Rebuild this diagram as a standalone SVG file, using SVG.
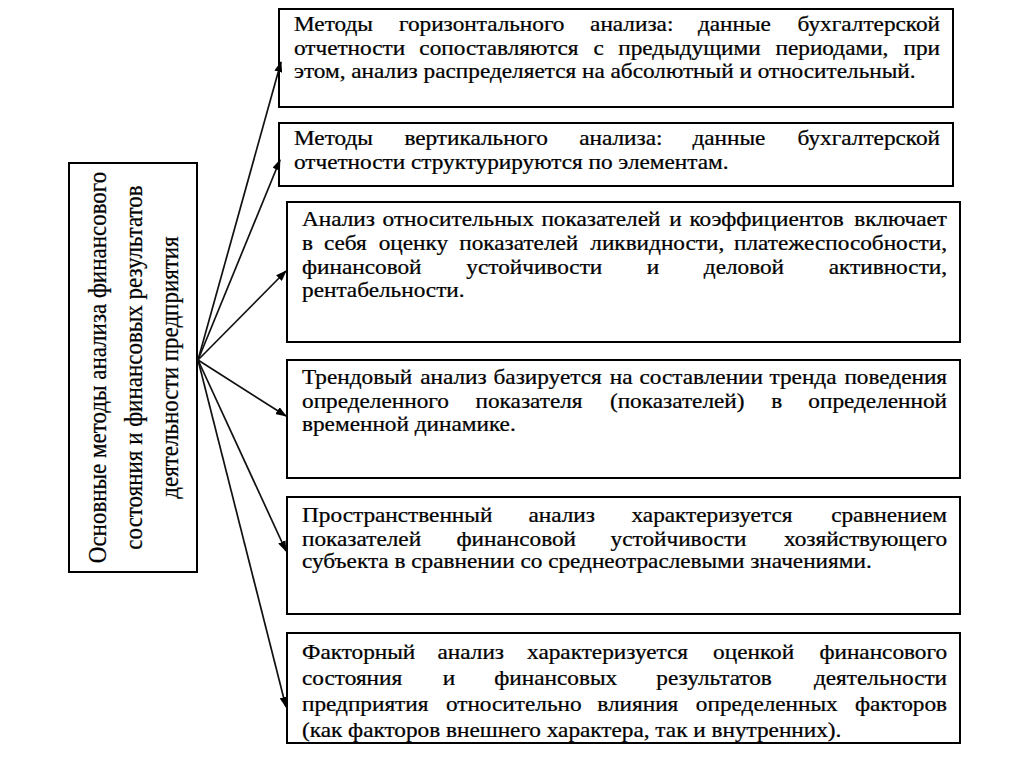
<svg xmlns="http://www.w3.org/2000/svg" width="1014" height="758" viewBox="0 0 1014 758">
<style>
.box{fill:#fff;stroke:#000;stroke-width:2}
.rt{fill:#000;stroke:#000;stroke-width:0.25}
.tl{fill:#000;text-anchor:middle;stroke:#000;stroke-width:0.2}
.rt .e{text-anchor:end}
.conn line{stroke:#111;stroke-width:1.7;fill:none;marker-end:url(#ah)}
</style>
<defs>
<marker id="ah" markerUnits="userSpaceOnUse" markerWidth="11" markerHeight="8" refX="10" refY="4" orient="auto"><path d="M0,0 L11,4 L0,8 z" fill="#000"/></marker>
<clipPath id="c6" clipPathUnits="userSpaceOnUse"><rect x="287" y="634" width="672" height="108"/></clipPath>
</defs>
<rect width="1014" height="758" fill="#fff"/>

<g id="n0">
<rect class="box" x="69" y="163" width="128" height="409"/>
<g font-family="Liberation Serif, serif" font-size="23">
<text class="tl" transform="translate(106,367.5) scale(1.135,1) rotate(-90)">Основные методы анализа финансового</text>
<text class="tl" transform="translate(142,367.5) scale(1.135,1) rotate(-90)">состояния и финансовых результатов</text>
<text class="tl" transform="translate(178,367.5) scale(1.135,1) rotate(-90)">деятельности предприятия</text>
</g>
</g>

<g id="n1">
<rect class="box" x="279" y="9" width="674" height="98"/>
<g class="rt" font-family="Liberation Serif, serif" font-size="20.5" transform="scale(1.135,1)">
<text y="31"><tspan x="259">Методы</tspan><tspan x="351.5">горизонтального</tspan><tspan x="519.9">анализа:</tspan><tspan x="614.9">данные</tspan></text>
<text class="e" x="828.2" y="31">бухгалтерской</text>
<text y="55"><tspan x="259">отчетности</tspan><tspan x="369.5">сопоставляются</tspan><tspan x="523">с</tspan><tspan x="544.7">предыдущими</tspan><tspan x="683.3">периодами,</tspan></text>
<text class="e" x="828.2" y="55">при</text>
<text x="259" y="78">этом, анализ распределяется на абсолютный и относительный.</text>
</g>
</g>

<g id="n2">
<rect class="box" x="279" y="123" width="674" height="63"/>
<g class="rt" font-family="Liberation Serif, serif" font-size="20.5" transform="scale(1.135,1)">
<text y="145"><tspan x="259">Методы</tspan><tspan x="356.3">вертикального</tspan><tspan x="510.3">анализа:</tspan><tspan x="610.1">данные</tspan></text>
<text class="e" x="828.2" y="145">бухгалтерской</text>
<text x="259" y="169">отчетности структурируются по элементам.</text>
</g>
</g>

<g id="n3">
<rect class="box" x="287" y="202" width="673" height="140"/>
<g class="rt" font-family="Liberation Serif, serif" font-size="20.5" transform="scale(1.135,1)">
<text y="226"><tspan x="266.1">Анализ</tspan><tspan x="337.1">относительных</tspan><tspan x="477">показателей</tspan><tspan x="589.6">и</tspan><tspan x="607.4">коэффициентов</tspan></text>
<text class="e" x="834.4" y="226">включает</text>
<text y="250"><tspan x="266.1">в</tspan><tspan x="285.4">себя</tspan><tspan x="333.6">оценку</tspan><tspan x="404.6">показателей</tspan><tspan x="520.1">ликвидности,</tspan></text>
<text class="e" x="834.4" y="250">платежеспособности,</text>
<text y="274"><tspan x="266.1">финансовой</tspan><tspan x="410.9">устойчивости</tspan><tspan x="569.9">и</tspan><tspan x="620.1">деловой</tspan></text>
<text class="e" x="834.4" y="274">активности,</text>
<text x="266.1" y="297">рентабельности.</text>
</g>
</g>

<g id="n4">
<rect class="box" x="287" y="360" width="673" height="118"/>
<g class="rt" font-family="Liberation Serif, serif" font-size="20.5" transform="scale(1.135,1)">
<text y="384"><tspan x="266.1">Трендовый</tspan><tspan x="370.2">анализ</tspan><tspan x="434.8">базируется</tspan><tspan x="537.2">на</tspan><tspan x="563.4">составлении</tspan><tspan x="678">тренда</tspan></text>
<text class="e" x="834.4" y="384">поведения</text>
<text y="408"><tspan x="266.1">определенного</tspan><tspan x="419">показателя</tspan><tspan x="537.4">(показателей)</tspan><tspan x="679.5">в</tspan></text>
<text class="e" x="834.4" y="408">определенной</text>
<text x="266.1" y="431">временной динамике.</text>
</g>
</g>

<g id="n5">
<rect class="box" x="287" y="497" width="673" height="117"/>
<g class="rt" font-family="Liberation Serif, serif" font-size="20.5" transform="scale(1.135,1)">
<text y="522"><tspan x="266.1">Пространственный</tspan><tspan x="465.6">анализ</tspan><tspan x="556.4">характеризуется</tspan></text>
<text class="e" x="834.4" y="522">сравнением</text>
<text y="546"><tspan x="266.1">показателей</tspan><tspan x="402.2">финансовой</tspan><tspan x="538">устойчивости</tspan></text>
<text class="e" x="834.4" y="546">хозяйствующего</text>
<text x="266.1" y="568">субъекта в сравнении со среднеотраслевыми значениями.</text>
</g>
</g>

<g id="n6">
<rect class="box" x="287" y="633" width="673" height="110"/>
<g clip-path="url(#c6)">
<g class="rt" font-family="Liberation Serif, serif" font-size="20.5" transform="scale(1.135,1)">
<text y="659"><tspan x="266.1">Факторный</tspan><tspan x="385.5">анализ</tspan><tspan x="464.4">характеризуется</tspan><tspan x="628.3">оценкой</tspan></text>
<text class="e" x="834.4" y="659">финансового</text>
<text y="685"><tspan x="266.1">состояния</tspan><tspan x="390.1">и</tspan><tspan x="435.5">финансовых</tspan><tspan x="578.3">результатов</tspan></text>
<text class="e" x="834.4" y="685">деятельности</text>
<text y="711"><tspan x="266.1">предприятия</tspan><tspan x="392.9">относительно</tspan><tspan x="526.3">влияния</tspan><tspan x="613.1">определенных</tspan></text>
<text class="e" x="834.4" y="711">факторов</text>
<text x="266.1" y="737">(как факторов внешнего характера, так и внутренних).</text>
</g>
</g>
</g>

<g id="connectors" class="conn">
<line x1="198" y1="360" x2="281" y2="62"/>
<line x1="198" y1="360" x2="280" y2="160"/>
<line x1="198" y1="360" x2="286" y2="271"/>
<line x1="198" y1="360" x2="286" y2="416"/>
<line x1="198" y1="360" x2="286" y2="551"/>
<line x1="198" y1="360" x2="286" y2="707"/>
</g>
</svg>
